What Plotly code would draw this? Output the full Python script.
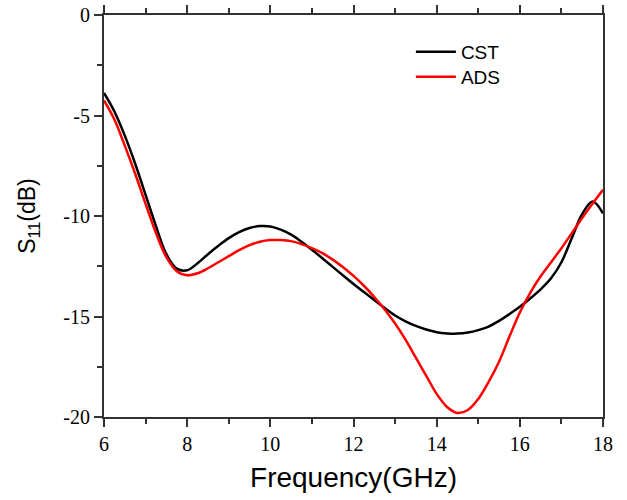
import plotly.graph_objects as go

freq = [6.0, 6.25, 6.5, 6.75, 7.0, 7.25, 7.5, 7.75, 8.0, 8.25, 8.5, 8.75, 9.0, 9.25, 9.5, 9.75,
        10.0, 10.25, 10.5, 10.75, 11.0, 11.25, 11.5, 11.75, 12.0, 12.25, 12.5, 12.75, 13.0, 13.25,
        13.5, 13.75, 14.0, 14.25, 14.5, 14.75, 15.0, 15.25, 15.5, 15.75, 16.0, 16.25, 16.5, 16.75,
        17.0, 17.25, 17.5, 17.75, 18.0]

cst_s11 = [-3.88, -4.8, -6.0, -7.4, -8.95, -10.5, -11.9, -12.62, -12.7, -12.35, -11.9, -11.48,
           -11.1, -10.8, -10.6, -10.5, -10.52, -10.68, -10.93, -11.28, -11.68, -12.1, -12.53,
           -12.96, -13.38, -13.78, -14.18, -14.58, -14.95, -15.24, -15.47, -15.65, -15.78, -15.84,
           -15.85, -15.8, -15.68, -15.5, -15.22, -14.88, -14.52, -14.1, -13.65, -13.1, -12.3,
           -11.1, -9.9, -9.28, -9.87]

ads_s11 = [-4.25, -5.2, -6.5, -7.9, -9.4, -10.85, -12.05, -12.75, -12.95, -12.85, -12.6, -12.3,
           -12.0, -11.7, -11.45, -11.28, -11.2, -11.2, -11.25, -11.4, -11.6, -11.85, -12.17, -12.55,
           -12.98, -13.47, -14.03, -14.65, -15.35, -16.15, -17.05, -17.95, -18.85, -19.5, -19.8,
           -19.65, -19.1, -18.25, -17.25, -16.0, -14.8, -13.82, -13.0, -12.3, -11.6, -10.85, -10.1,
           -9.38, -8.7]

x_ticks = [6, 8, 10, 12, 14, 16, 18]
y_ticks = [0, -5, -10, -15, -20]

fig = go.Figure()
fig.add_trace(go.Scatter(x=freq, y=cst_s11, mode="lines", name="CST", legend="legend",
                         line=dict(color="#000000", width=2.5, shape="spline", smoothing=1.0)))
fig.add_trace(go.Scatter(x=freq, y=ads_s11, mode="lines", name="ADS", legend="legend2",
                         line=dict(color="#ff0000", width=2.5, shape="spline", smoothing=1.0)))

tickfont = dict(family="Liberation Serif, Times New Roman, serif", size=20, color="#000000")
xtitlefont = dict(family="Liberation Sans, Arial, sans-serif", size=28, color="#000000")
ytitlefont = dict(family="Liberation Sans, Arial, sans-serif", size=23, color="#000000")
legfont = dict(family="Liberation Sans, Arial, sans-serif", size=19, color="#000000")

fig.update_layout(
    width=627, height=500,
    margin=dict(l=104, r=24, t=15, b=83),
    paper_bgcolor="white", plot_bgcolor="white",
    showlegend=True,
    legend=dict(x=0.615, y=0.908, xanchor="left", yanchor="middle", font=legfont,
                bgcolor="rgba(0,0,0,0)", itemwidth=40),
    legend2=dict(x=0.615, y=0.846, xanchor="left", yanchor="middle", font=legfont,
                 bgcolor="rgba(0,0,0,0)", itemwidth=40),
    xaxis=dict(range=[6, 18], tickvals=x_ticks, ticktext=[str(v) for v in x_ticks],
               showgrid=False, zeroline=False, showline=True, linecolor="#333333", linewidth=2,
               mirror="ticks", ticks="outside", ticklen=8, tickwidth=2, tickcolor="#333333",
               minor=dict(dtick=1, ticks="outside", ticklen=5, tickwidth=1.5, tickcolor="#333333"),
               tickfont=tickfont, automargin=False, ticklabeloverflow="allow",
               title=dict(text="Frequency(GHz)", font=xtitlefont, standoff=13)),
    yaxis=dict(range=[-20, 0], tickvals=y_ticks, ticktext=[str(v) for v in y_ticks],
               showgrid=False, zeroline=False, showline=True, linecolor="#333333", linewidth=2,
               mirror=True, ticks="outside", ticklen=8, tickwidth=2, tickcolor="#333333",
               minor=dict(dtick=2.5, ticks="outside", ticklen=5, tickwidth=1.5, tickcolor="#333333"),
               tickfont=tickfont, automargin=False, ticklabeloverflow="allow",
               title=dict(text="S<sub>11</sub>(dB)", font=ytitlefont, standoff=21)),
)

fig.write_html("out.html", config={"displayModeBar": False},
               post_script="document.body.style.margin='0';")
